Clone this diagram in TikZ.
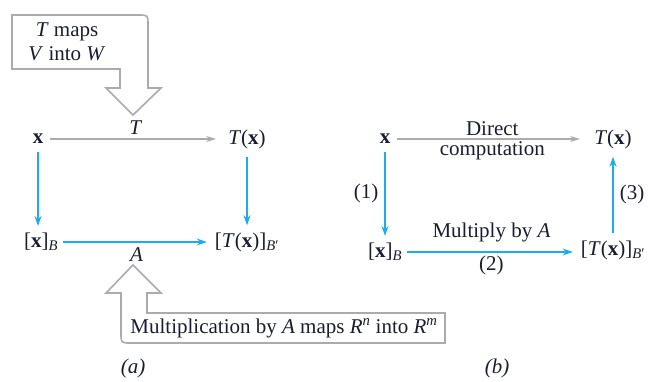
\documentclass[tikz,border=0pt]{standalone}
\usepackage{fontspec}
\setmainfont{Liberation Serif}
\usetikzlibrary{arrows.meta,positioning}
\definecolor{mapBlue}{HTML}{1EAAEB}
\definecolor{mapGray}{HTML}{ABABAB}
\definecolor{mapInk}{HTML}{1A1D2E}

\begin{document}
\begin{tikzpicture}[
    x=1pt, y=-1pt,
    lbl/.style={font=\fontsize{21}{24}\selectfont, text=mapInk, inner sep=2pt, align=center},
    barrow/.style={-{Stealth[length=10pt,width=7pt]}, mapBlue, line width=1.5pt},
    garrow/.style={-{Stealth[length=10pt,width=6pt]}, mapGray, line width=1.3pt},
    callout/.style={draw=mapGray, line width=1.6pt, line join=miter},
]
    \useasboundingbox (0,0) rectangle (648,381);
    % (a)
    \node[lbl] (xa) at (38,139) {\textbf{x}};
    \node[lbl] (txa) at (247,139) {\textit{T}(\textbf{x})};
    \node[lbl] (xba) at (41,242) {[\textbf{x}]\textsubscript{\textit{B}}};
    \node[lbl] (txba) at (247,242) {[\textit{T}(\textbf{x})]\textsubscript{\textit{B}′}};
    \draw[garrow, shorten <=5pt, shorten >=10pt] (xa) -- node[lbl, above=2pt] (tlbl) {\textit{T}} (txa);
    \draw[barrow, shorten <=6pt, shorten >=5pt] (xa.south) -- (xa.south |- xba.north);
    \draw[barrow, shorten <=6pt, shorten >=5pt] (txa.south) -- (txa.south |- txba.north);
    \draw[barrow, shorten <=3pt, shorten >=6pt] (xba.east) -- node[lbl, below=3pt] (albl) {\textit{A}} (xba.east -| txba.west);
    % top callout
    \draw[callout] (12,69) -- (12,15) -- (138,15) .. controls (148,15) .. (148,25)
        -- (148,88) -- (161,88) -- (133,115) -- (106,88) -- (120,88) -- (120,69) -- cycle;
    \node[lbl] (tmaps) at (67,42) {\textit{T} maps\\\textit{V} into \textit{W}};
    % bottom callout
    \draw[callout] (133,265) -- (161,293) -- (147,293) -- (147,313) -- (445,313)
        -- (445,343) -- (131,343) .. controls (121,343) .. (121,333) -- (121,293) -- (106,293) -- cycle;
    \node[lbl] (amaps) at (284,328) {Multiplication by \textit{A} maps \textit{R}\textsuperscript{\textit{n}} into \textit{R}\textsuperscript{\textit{m}}};
    % (b)
    \node[lbl] (xb) at (385,139) {\textbf{x}};
    \node[lbl] (txb) at (613,139) {\textit{T}(\textbf{x})};
    \node[lbl] (xbb) at (385,252) {[\textbf{x}]\textsubscript{\textit{B}}};
    \node[lbl] (txbb) at (613,250) {[\textit{T}(\textbf{x})]\textsubscript{\textit{B}′}};
    \draw[garrow, shorten <=5pt, shorten >=12pt] (xb) -- node[lbl, above=1pt] (direct) {Direct}
        node[lbl, below=0pt] (comput) {computation} (txb);
    \draw[barrow, shorten <=6pt, shorten >=5pt] (xb.south) -- node[lbl, left=4pt] (one) {(1)} (xb.south |- xbb.north);
    \draw[barrow, shorten <=3pt, shorten >=6pt] (xbb.east) -- node[lbl, above=7pt] (mult) {Multiply by \textit{A}}
        node[lbl, below=1pt] (two) {(2)} (xbb.east -| txbb.west);
    \draw[barrow, shorten <=5pt, shorten >=6pt] (txbb.north -| txb.south) -- node[lbl, right=4pt] (three) {(3)} (txb.south);
    % captions
    \node[lbl] (capa) at (133,368) {\textit{(a)}};
    \node[lbl] (capb) at (497,368) {\textit{(b)}};
\end{tikzpicture}
\end{document}
